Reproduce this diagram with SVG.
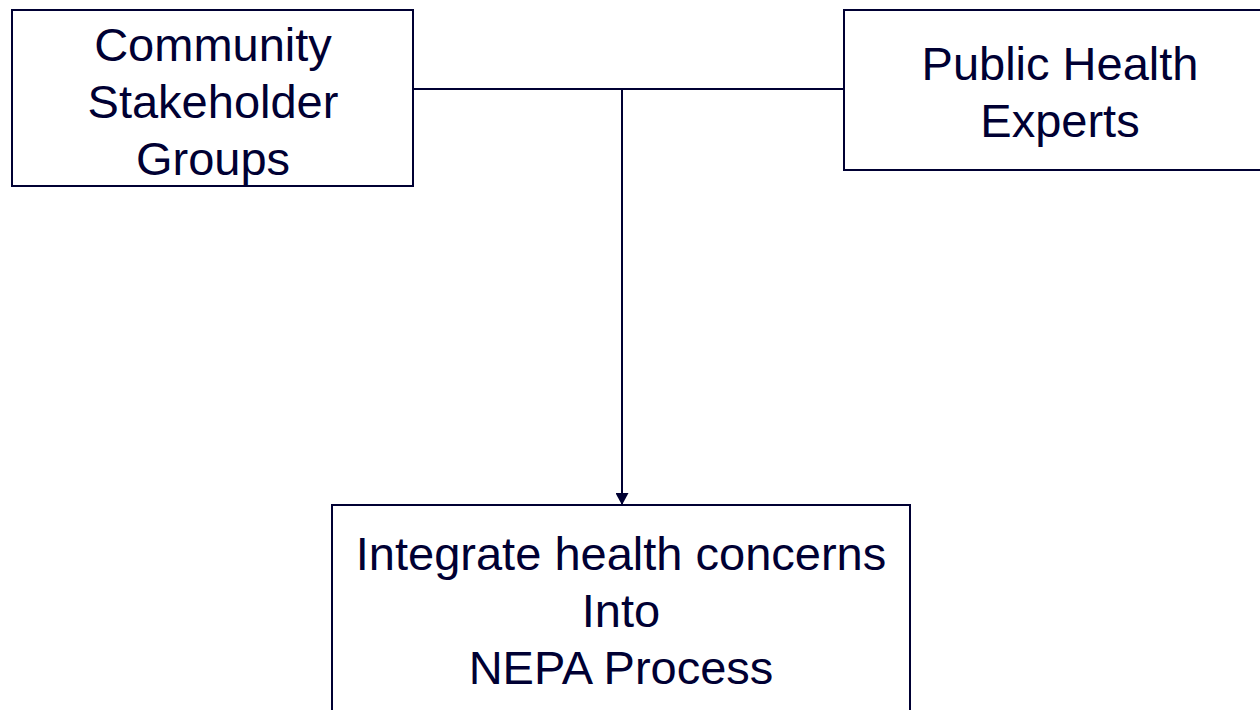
<svg xmlns="http://www.w3.org/2000/svg" width="1260" height="710" viewBox="0 0 1260 710">
<style>
.box{fill:#fff;stroke:#000033;stroke-width:2}
.t{font-family:"Liberation Sans",Arial,sans-serif;font-size:47px;fill:#000033;text-anchor:middle}
.c{stroke:#000033;stroke-width:2;fill:none}
</style>
<defs>
<marker id="arr" viewBox="0 0 12 13" refX="12" refY="6.5" markerWidth="12" markerHeight="13" markerUnits="userSpaceOnUse" orient="auto">
<path d="M0,0 L12,6.5 L0,13 z" fill="#000033"/>
</marker>
</defs>
<rect width="1260" height="710" fill="#fff"/>
<g id="connectors">
<line class="c" x1="413" y1="89" x2="844" y2="89"/>
<line class="c" x1="622" y1="89" x2="622" y2="505" marker-end="url(#arr)"/>
</g>
<g id="community">
<rect class="box" x="12" y="10" width="401" height="176"/>
<text class="t" x="213" y="61">Community</text>
<text class="t" x="213" y="118">Stakeholder</text>
<text class="t" x="213" y="175">Groups</text>
</g>
<g id="experts">
<rect class="box" x="844" y="10" width="430" height="160"/>
<text class="t" x="1060" y="80">Public Health</text>
<text class="t" x="1060" y="137">Experts</text>
</g>
<g id="integrate">
<rect class="box" x="332" y="505" width="578" height="220"/>
<text class="t" x="621" y="570">Integrate health concerns</text>
<text class="t" x="621" y="627">Into</text>
<text class="t" x="621" y="684">NEPA Process</text>
</g>
</svg>
